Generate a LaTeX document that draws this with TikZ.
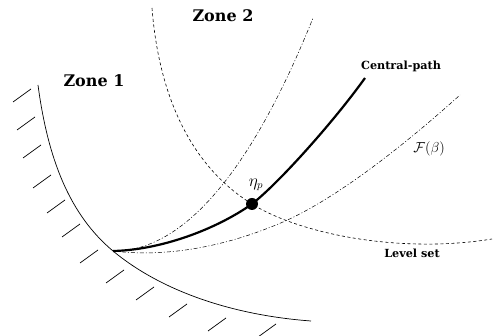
\documentclass[tikz,border=0pt]{standalone}
\usepackage{amsmath, amssymb, bm}
\usepackage{fontspec}
\newfontfamily\zonefont{DejaVu Serif}
\usepackage{xcolor}
\usepackage{tikz}
\usetikzlibrary{positioning}

\begin{document}
\begin{tikzpicture}[x=1pt, y=-1pt,
    zone/.style={font=\zonefont\bfseries\fontsize{16}{18}\selectfont},
    tag/.style={font=\zonefont\bfseries\fontsize{11.2}{13}\selectfont},
    barrier/.style={line width=0.7pt},
    cpathline/.style={line width=2.2pt},
    dashdot/.style={line width=0.5pt, dash pattern=on 4pt off 2pt on 1pt off 2pt},
    levelline/.style={line width=0.6pt, dash pattern=on 3pt off 2.5pt}]
            \useasboundingbox (0,0) rectangle (493,336);
            \coordinate (tip) at (113,251);
            \coordinate (top) at (38,85);
            \coordinate (bottom) at (311,321);
            \node[circle, fill, inner sep=0pt, minimum size=12pt] (eta) at (252,204) {};

            % boundary of the feasible set and its hatching
            \draw[barrier] (top) .. controls (48,160) and (70,215) .. (tip)
                .. controls (160,290) and (230,315) .. (bottom);
            \foreach \hx/\hy in {13/102, 17/130, 23/158, 33/188, 47/213, 62/237, 80/263, 106/283, 136/300, 169/317, 208/331, 258/337}
                \draw[barrier] (\hx,\hy) -- ++(18,-13);

            % level set and the two branches of F(beta)
            \draw[levelline] (152,8) .. controls (160,110) and (200,172) .. (eta.center)
                .. controls (300,234) and (400,254) .. (492,239);
            \draw[dashdot] (tip) .. controls (190,252) and (258,155) .. (313,18);
            \draw[dashdot] (tip) .. controls (170,258) and (230,245) .. (283,222)
                .. controls (340,197) and (410,140) .. (460,95);

            % central path
            \draw[cpathline] (tip) .. controls (160,250) and (215,230) .. (eta.center)
                .. controls (280,182) and (335,120) .. (365,78);

            \node[zone] (zone1) at (94,81) {Zone 1};
            \node[zone] (zone2) at (223,16) {Zone 2};
            \node[tag] (cpath) at (401,66) {Central-path};
            \node[tag] (lset) at (412,253) {Level set};
            \node[font=\fontsize{14}{16}\selectfont] (fbeta) at (429,149) {$\mathcal{F}(\beta)$};
            \node[font=\fontsize{16}{18}\selectfont] (etap) at (256,185) {$\eta_p$};
        \end{tikzpicture}
\end{document}
